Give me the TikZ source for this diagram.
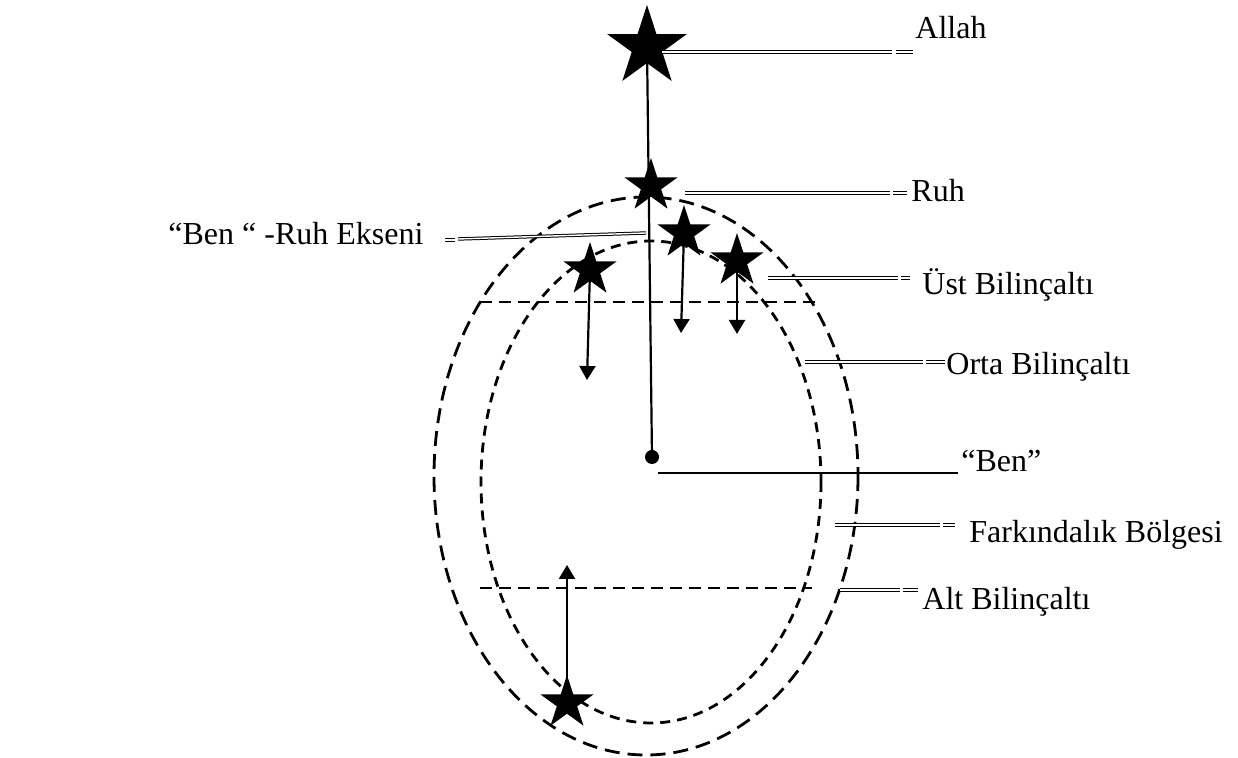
\documentclass[tikz,border=0pt]{standalone}
\usepackage{fontspec}
\setmainfont{Liberation Serif}
\usetikzlibrary{arrows.meta, shapes.geometric}

\begin{document}
\begin{tikzpicture}[x=0.5pt, y=-0.5pt,
    lbl/.style={inner sep=0pt, font=\fontsize{16}{19}\selectfont},
    bigstar/.style={star, star points=5, star point ratio=2.618, fill=black,
                    inner sep=0pt, minimum size=42pt},
    smallstar/.style={bigstar, minimum size=28pt},
    dot/.style={circle, fill=black, inner sep=0pt, minimum size=7pt},
    outerring/.style={line width=1.4pt, dash pattern=on 7.5pt off 4pt},
    innerring/.style={line width=1.4pt, dash pattern=on 5pt off 3.5pt},
    level/.style={line width=1pt, dash pattern=on 6pt off 3.5pt},
    axis/.style={line width=1.1pt},
    arr/.style={line width=1.1pt, -{Triangle[length=7pt, width=8pt]}},
    leader/.style={double, double distance=0.7pt, line width=0.5pt}]
  \useasboundingbox (0,0) rectangle (1238,758);

  \draw[outerring] (646,476) ellipse [x radius=212, y radius=279];
  \draw[innerring] (651,482) ellipse [x radius=170, y radius=241];
  \coordinate (ust-l) at (480,302);
  \coordinate (ust-r) at (822,302);
  \coordinate (alt-l) at (480,588);
  \coordinate (alt-r) at (812,588);
  \draw[level] (ust-l) -- (ust-r);
  \draw[level] (alt-l) -- (alt-r);

  \node[bigstar] (allah) at (647,47) {};
  \node[smallstar] (ruh) at (651,186) {};
  \node[smallstar] (s1) at (684,233) {};
  \node[smallstar] (s2) at (737,261) {};
  \node[smallstar] (s3) at (590,270) {};
  \node[smallstar] (s4) at (567,703) {};
  \node[dot] (ben) at (652,457) {};

  \draw[axis] (allah.center) -- (ben.center);

  \coordinate (s1-end) at (681,333);
  \coordinate (s2-end) at (737,334);
  \coordinate (s3-end) at (587,380);
  \coordinate (s4-end) at (567,565);
  \draw[arr] (s1.center) -- (s1-end);
  \draw[arr] (s2.center) -- (s2-end);
  \draw[arr] (s3.center) -- (s3-end);
  \draw[arr] (s4.center) -- (s4-end);

  \node[lbl, anchor=base west] (l-allah) at (915,39) {Allah};
  \node[lbl, anchor=base west] (l-ruh) at (911,202) {Ruh};
  \node[lbl, anchor=base west] (l-eksen) at (168,245) {“Ben “ -Ruh Ekseni};
  \node[lbl, anchor=base west] (l-ust) at (922,295) {Üst Bilinçaltı};
  \node[lbl, anchor=base west] (l-orta) at (946,375) {Orta Bilinçaltı};
  \node[lbl, anchor=base west] (l-ben) at (961,472) {“Ben”};
  \node[lbl, anchor=base west] (l-fark) at (969,543) {Farkındalık Bölgesi};
  \node[lbl, anchor=base west] (l-alt) at (922,610) {Alt Bilinçaltı};

  \coordinate (a1) at (662,52);  \coordinate (a2) at (892,52);
  \coordinate (a3) at (896,52);  \coordinate (a4) at (913,52);
  \draw[leader] (a1) -- (a2);  \draw[leader] (a3) -- (a4);
  \coordinate (r1) at (685,193); \coordinate (r2) at (890,193);
  \coordinate (r3) at (893,193); \coordinate (r4) at (907,193);
  \draw[leader] (r1) -- (r2);  \draw[leader] (r3) -- (r4);
  \coordinate (e1) at (445,240); \coordinate (e2) at (455,240);
  \coordinate (e3) at (458,239); \coordinate (e4) at (646,233);
  \draw[leader] (e1) -- (e2);  \draw[leader] (e3) -- (e4);
  \coordinate (u1) at (768,278); \coordinate (u2) at (898,278);
  \coordinate (u3) at (901,278); \coordinate (u4) at (910,278);
  \draw[leader] (u1) -- (u2);  \draw[leader] (u3) -- (u4);
  \coordinate (o1) at (805,362); \coordinate (o2) at (923,362);
  \coordinate (o3) at (926,362); \coordinate (o4) at (945,362);
  \draw[leader] (o1) -- (o2);  \draw[leader] (o3) -- (o4);
  \coordinate (b1) at (658,473); \coordinate (b2) at (958,473);
  \draw[line width=0.9pt] (b1) -- (b2);
  \coordinate (f1) at (835,525); \coordinate (f2) at (940,525);
  \coordinate (f3) at (943,525); \coordinate (f4) at (955,525);
  \draw[leader] (f1) -- (f2);  \draw[leader] (f3) -- (f4);
  \coordinate (t1) at (840,590); \coordinate (t2) at (900,590);
  \coordinate (t3) at (903,590); \coordinate (t4) at (918,590);
  \draw[leader] (t1) -- (t2);  \draw[leader] (t3) -- (t4);
\end{tikzpicture}
\end{document}
